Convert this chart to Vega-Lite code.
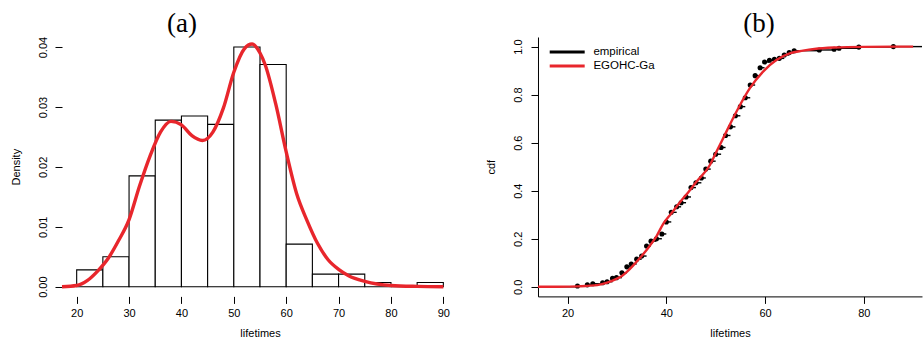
{
  "$schema": "https://vega.github.io/schema/vega-lite/v6.json",
  "padding": {"left": 10, "top": 9, "right": 0, "bottom": 0},
  "bounds": "flush",
  "spacing": 80,
  "config": {
    "font": "Liberation Sans",
    "view": {"stroke": null},
    "axis": {
      "labelFont": "Liberation Sans", "labelFontSize": 11, "labelColor": "#000",
      "titleFont": "Liberation Sans", "titleFontSize": 11, "titleFontWeight": "normal", "titleColor": "#000",
      "tickColor": "#000", "tickSize": 7, "tickWidth": 1, "domainColor": "#000", "domainWidth": 1, "grid": false
    },
    "title": {"font": "Liberation Serif", "fontSize": 27, "fontWeight": "normal", "color": "#000"}
  },
  "datasets": {
    "bins": [
      {"start": 20, "end": 25, "density": 0.0028},
      {"start": 25, "end": 30, "density": 0.0050},
      {"start": 30, "end": 35, "density": 0.0185},
      {"start": 35, "end": 40, "density": 0.0278},
      {"start": 40, "end": 45, "density": 0.0285},
      {"start": 45, "end": 50, "density": 0.0271},
      {"start": 50, "end": 55, "density": 0.0400},
      {"start": 55, "end": 60, "density": 0.0371},
      {"start": 60, "end": 65, "density": 0.0071},
      {"start": 65, "end": 70, "density": 0.0021},
      {"start": 70, "end": 75, "density": 0.0021},
      {"start": 75, "end": 80, "density": 0.0007},
      {"start": 80, "end": 85, "density": 0.0},
      {"start": 85, "end": 90, "density": 0.0007}
    ],
    "pdf": [
      {"t": 17.2, "f": 0.0}, {"t": 20, "f": 0.0002}, {"t": 22, "f": 0.0010}, {"t": 24, "f": 0.0026},
      {"t": 26, "f": 0.0047}, {"t": 28, "f": 0.0077}, {"t": 30, "f": 0.0112}, {"t": 32, "f": 0.0168},
      {"t": 34, "f": 0.0218}, {"t": 36, "f": 0.0258}, {"t": 38, "f": 0.0276}, {"t": 40, "f": 0.0270},
      {"t": 42, "f": 0.0252}, {"t": 44, "f": 0.0244}, {"t": 46, "f": 0.0258}, {"t": 48, "f": 0.0298},
      {"t": 50, "f": 0.0358}, {"t": 52, "f": 0.0397}, {"t": 53.5, "f": 0.0405}, {"t": 55, "f": 0.0390},
      {"t": 56, "f": 0.0370}, {"t": 58, "f": 0.0305}, {"t": 60, "f": 0.0225}, {"t": 62, "f": 0.0155},
      {"t": 64, "f": 0.0110}, {"t": 66, "f": 0.0072}, {"t": 68, "f": 0.0045}, {"t": 70, "f": 0.0029},
      {"t": 72, "f": 0.0018}, {"t": 75, "f": 0.0009}, {"t": 80, "f": 0.0002}, {"t": 85, "f": 0.00005},
      {"t": 90, "f": 0.0}
    ],
    "ecdf": [
      {"t": 14.0, "t2": 22.0, "p": 0.0},
      {"t": 22.0, "t2": 24.0, "p": 0.003},
      {"t": 24.0, "t2": 25.1, "p": 0.008},
      {"t": 25.1, "t2": 27.1, "p": 0.0125},
      {"t": 27.1, "t2": 28.0, "p": 0.017},
      {"t": 28.0, "t2": 29.1, "p": 0.021},
      {"t": 29.1, "t2": 29.9, "p": 0.035},
      {"t": 29.9, "t2": 31.0, "p": 0.038},
      {"t": 31.0, "t2": 32.0, "p": 0.058},
      {"t": 32.0, "t2": 32.9, "p": 0.083},
      {"t": 32.9, "t2": 34.0, "p": 0.095},
      {"t": 34.0, "t2": 35.0, "p": 0.115},
      {"t": 35.0, "t2": 36.0, "p": 0.128},
      {"t": 36.0, "t2": 36.9, "p": 0.170},
      {"t": 36.9, "t2": 38.0, "p": 0.190},
      {"t": 38.0, "t2": 39.1, "p": 0.200},
      {"t": 39.1, "t2": 40.0, "p": 0.220},
      {"t": 40.0, "t2": 41.0, "p": 0.270},
      {"t": 41.0, "t2": 42.1, "p": 0.310},
      {"t": 42.1, "t2": 43.0, "p": 0.333},
      {"t": 43.0, "t2": 44.0, "p": 0.350},
      {"t": 44.0, "t2": 45.0, "p": 0.374},
      {"t": 45.0, "t2": 46.0, "p": 0.413},
      {"t": 46.0, "t2": 47.1, "p": 0.433},
      {"t": 47.1, "t2": 48.0, "p": 0.453},
      {"t": 48.0, "t2": 49.0, "p": 0.490},
      {"t": 49.0, "t2": 50.0, "p": 0.523},
      {"t": 50.0, "t2": 51.1, "p": 0.552},
      {"t": 51.1, "t2": 52.0, "p": 0.580},
      {"t": 52.0, "t2": 53.0, "p": 0.630},
      {"t": 53.0, "t2": 54.0, "p": 0.666},
      {"t": 54.0, "t2": 55.0, "p": 0.712},
      {"t": 55.0, "t2": 56.0, "p": 0.750},
      {"t": 56.0, "t2": 57.0, "p": 0.787},
      {"t": 57.0, "t2": 58.0, "p": 0.840},
      {"t": 58.0, "t2": 59.0, "p": 0.879},
      {"t": 59.0, "t2": 59.9, "p": 0.912},
      {"t": 59.9, "t2": 60.9, "p": 0.936},
      {"t": 60.9, "t2": 61.9, "p": 0.943},
      {"t": 61.9, "t2": 62.9, "p": 0.947},
      {"t": 62.9, "t2": 63.9, "p": 0.951},
      {"t": 63.9, "t2": 64.9, "p": 0.965},
      {"t": 64.9, "t2": 65.9, "p": 0.975},
      {"t": 65.9, "t2": 71.0, "p": 0.983},
      {"t": 71.0, "t2": 74.0, "p": 0.986},
      {"t": 74.0, "t2": 75.0, "p": 0.989},
      {"t": 75.0, "t2": 79.0, "p": 0.993},
      {"t": 79.0, "t2": 86.0, "p": 0.998},
      {"t": 86.0, "t2": 91.8, "p": 1.0}
    ],
    "cdf": [
      {"t": 14, "p": 0.0}, {"t": 18, "p": 0.0}, {"t": 20, "p": 0.0005}, {"t": 22, "p": 0.0015},
      {"t": 24, "p": 0.004}, {"t": 26, "p": 0.007}, {"t": 28, "p": 0.017}, {"t": 30, "p": 0.034},
      {"t": 31, "p": 0.045}, {"t": 32, "p": 0.062}, {"t": 33.3, "p": 0.089}, {"t": 35, "p": 0.128},
      {"t": 36.7, "p": 0.172}, {"t": 38, "p": 0.21}, {"t": 39.4, "p": 0.263}, {"t": 41, "p": 0.305},
      {"t": 42.8, "p": 0.353}, {"t": 44.5, "p": 0.395}, {"t": 46.1, "p": 0.437}, {"t": 48.8, "p": 0.506},
      {"t": 50, "p": 0.556}, {"t": 51.5, "p": 0.618}, {"t": 54.2, "p": 0.729}, {"t": 56.9, "p": 0.826},
      {"t": 59.6, "p": 0.896}, {"t": 62.3, "p": 0.944}, {"t": 65, "p": 0.972}, {"t": 67.7, "p": 0.983},
      {"t": 70, "p": 0.99}, {"t": 74, "p": 0.996}, {"t": 80, "p": 0.999}, {"t": 90, "p": 1.0}
    ]
  },
  "hconcat": [
    {
      "width": 396,
      "height": 259.4,
      "title": {"text": "(a)", "frame": "group", "anchor": "middle", "dx": -78, "baseline": "alphabetic", "offset": -22.5},
      "layer": [
        {
          "data": {"name": "bins"},
          "mark": {"type": "rect", "fill": "#ffffff", "stroke": "#000000", "strokeWidth": 1.1},
          "encoding": {
            "x": {
              "field": "start", "type": "quantitative",
              "scale": {"domain": [17.2, 92.8], "nice": false, "zero": false},
              "axis": {"values": [20, 30, 40, 50, 60, 70, 80, 90], "format": "d", "domain": false,
                       "labelPadding": 4, "title": "lifetimes", "titlePadding": 9}
            },
            "x2": {"field": "end"},
            "y": {
              "field": "density", "type": "quantitative",
              "scale": {"domain": [-0.00162, 0.04168], "nice": false, "zero": false},
              "axis": {"values": [0, 0.01, 0.02, 0.03, 0.04], "format": ".2f", "domain": false,
                       "labelAngle": -90, "labelAlign": "center", "labelBaseline": "bottom", "labelPadding": 7,
                       "title": "Density", "titlePadding": 16}
            },
            "y2": {"datum": 0}
          }
        },
        {
          "data": {"name": "pdf"},
          "mark": {"type": "line", "color": "#e8262c", "strokeWidth": 3.4, "interpolate": "monotone"},
          "encoding": {
            "x": {"field": "t", "type": "quantitative"},
            "y": {"field": "f", "type": "quantitative"}
          }
        },
        {
          "mark": {"type": "rule", "color": "#000000", "strokeWidth": 1},
          "encoding": {"x": {"datum": 17.2}, "y": {"datum": 0}, "y2": {"datum": 0.04}}
        },
        {
          "mark": {"type": "rule", "color": "#000000", "strokeWidth": 1},
          "encoding": {"x": {"datum": 20}, "x2": {"datum": 90}, "y": {"datum": -0.00162}}
        }
      ]
    },
    {
      "width": 384,
      "height": 259.4,
      "title": {"text": "(b)", "frame": "group", "anchor": "middle", "dx": 29, "baseline": "alphabetic", "offset": -22.5},
      "layer": [
        {
          "mark": {"type": "rule", "color": "#b3b3b3", "strokeWidth": 1, "strokeDash": [4, 3]},
          "encoding": {"y": {"datum": 0}}
        },
        {
          "mark": {"type": "rule", "color": "#b3b3b3", "strokeWidth": 1, "strokeDash": [4, 3]},
          "encoding": {"y": {"datum": 1}}
        },
        {
          "mark": {"type": "rule", "color": "#000000", "strokeWidth": 1},
          "encoding": {"y": {"datum": 1.04}}
        },
        {
          "data": {"name": "ecdf"},
          "mark": {"type": "rule", "strokeWidth": 1.4},
          "encoding": {
            "x": {
              "field": "t", "type": "quantitative",
              "scale": {"domain": [14, 91.8], "nice": false, "zero": false},
              "axis": {"values": [20, 40, 60, 80], "format": "d", "domain": true,
                       "labelPadding": 4, "title": "lifetimes", "titlePadding": 9}
            },
            "x2": {"field": "t2"},
            "y": {
              "field": "p", "type": "quantitative",
              "scale": {"domain": [-0.04, 1.04], "nice": false, "zero": false},
              "axis": {"values": [0, 0.2, 0.4, 0.6, 0.8, 1.0], "format": ".1f", "domain": true,
                       "labelAngle": -90, "labelAlign": "center", "labelBaseline": "bottom", "labelPadding": 7,
                       "title": "cdf", "titlePadding": 16.5}
            },
            "color": {"datum": "empirical", "type": "nominal"}
          }
        },
        {
          "data": {"name": "ecdf"},
          "transform": [{"filter": "datum.t > 15"}],
          "mark": {"type": "point", "filled": true, "color": "#000000", "opacity": 1, "size": 26},
          "encoding": {
            "x": {"field": "t", "type": "quantitative"},
            "y": {"field": "p", "type": "quantitative"}
          }
        },
        {
          "data": {"name": "cdf"},
          "mark": {"type": "line", "strokeWidth": 2.4, "interpolate": "monotone"},
          "encoding": {
            "x": {"field": "t", "type": "quantitative"},
            "y": {"field": "p", "type": "quantitative"},
            "color": {
              "datum": "EGOHC-Ga", "type": "nominal",
              "scale": {"domain": ["empirical", "EGOHC-Ga"], "range": ["#000000", "#e8262c"]},
              "legend": {
                "title": null, "orient": "none", "legendX": 497.7, "legendY": 7.4,
                "symbolType": "M-3,0H3", "symbolSize": 136, "symbolStrokeWidth": 3,
                "symbolFillColor": "transparent",
                "labelFont": "Liberation Sans", "labelFontSize": 11.5, "labelColor": "#000",
                "labelOffset": 18.7, "rowPadding": 0, "padding": 0
              }
            }
          }
        }
      ]
    }
  ]
}
